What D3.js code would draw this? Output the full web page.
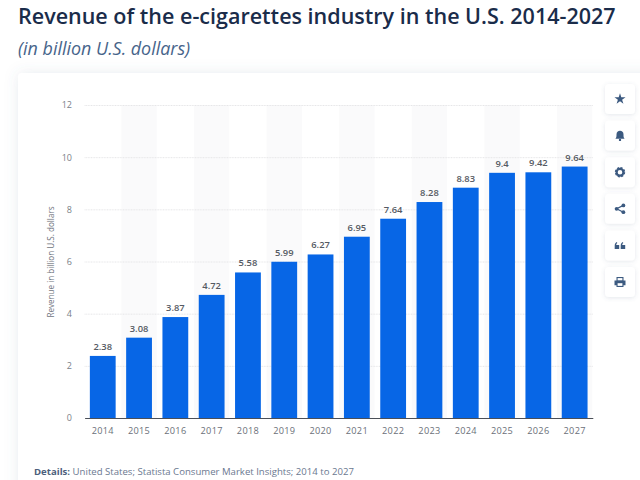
<!DOCTYPE html>
<html><head><meta charset="utf-8">
<script src="https://cdn.jsdelivr.net/npm/d3@7"></script>
<style>
html,body{margin:0;padding:0;background:#fff;overflow:hidden}
svg{display:block}
text{font-family:"Open Sans",sans-serif}
</style></head><body>
<svg id="c" width="640" height="480"></svg>
<script>
const years=["2014","2015","2016","2017","2018","2019","2020","2021","2022","2023","2024","2025","2026","2027"];
const revenue=[2.38,3.08,3.87,4.72,5.58,5.99,6.27,6.95,7.64,8.28,8.83,9.4,9.42,9.64];
const yTicks=[0,2,4,6,8,10,12];
const titleText="Revenue of the e-cigarettes industry in the U.S. 2014-2027";
const subtitleText="(in billion U.S. dollars)";
const yAxisLabel="Revenue in billion U.S. dollars";
const detailsLabel="Details:";
const detailsText=" United States; Statista Consumer Market Insights; 2014 to 2027";
const iconNames=["star","bell","gear","share","quote","print"];

const svg=d3.select("#c");
const defs=svg.append("defs");
const blur=defs.append("filter").attr("id","sh").attr("x","-20%").attr("y","-20%").attr("width","140%").attr("height","140%");
blur.append("feDropShadow").attr("dx",0).attr("dy",0).attr("stdDeviation",7).attr("flood-color","#5b6b85").attr("flood-opacity",0.13);
const blur2=defs.append("filter").attr("id","sh2").attr("x","-30%").attr("y","-30%").attr("width","160%").attr("height","160%");
blur2.append("feDropShadow").attr("dx",0).attr("dy",1).attr("stdDeviation",2).attr("flood-color","#5b6b85").attr("flood-opacity",0.16);

svg.append("text").attr("x",18).attr("y",24).attr("font-size",21.53).attr("font-weight",600).attr("fill","#1a2c4a").text(titleText);
svg.append("text").attr("x",18).attr("y",54.5).attr("font-size",17.9).attr("font-style","italic").attr("fill","#47648a").text(subtitleText);

svg.append("rect").attr("x",18).attr("y",73).attr("width",640).attr("height",430).attr("rx",4).attr("fill","#fff").attr("filter","url(#sh)");

const x=d3.scaleBand().domain(years).range([84.6,592.8]).paddingInner(0).paddingOuter(0);
const y=d3.scaleLinear().domain([0,12]).range([418,105]);

svg.append("g").selectAll("rect").data(years.filter((d,i)=>i%2===1)).join("rect")
  .attr("x",d=>x(d)+0.5).attr("width",x.bandwidth()-1).attr("y",y(12)).attr("height",y(0)-y(12)).attr("fill","#fafafb");

const grid=svg.append("g")
  .call(d3.axisLeft(y).tickValues(yTicks.filter(d=>d>0)).tickSize(-(592.8-84.6)).tickFormat(""))
  .attr("transform","translate(84.6,0)");
grid.select(".domain").remove();
grid.selectAll("line").attr("stroke","#e6e6e8").attr("stroke-width",1).attr("stroke-dasharray","1 0.6");

const yAxis=svg.append("g").attr("transform","translate(72,0)")
  .call(d3.axisLeft(y).tickValues(yTicks).tickSize(0).tickPadding(0));
yAxis.select(".domain").remove();
yAxis.selectAll("text").attr("font-size",9).attr("fill","#7a7f88").attr("font-family","'Open Sans',sans-serif");

svg.append("text").attr("transform","translate(53.5,262) rotate(-90)").attr("text-anchor","middle")
  .attr("font-size",8.1).attr("fill","#6f747d").text(yAxisLabel);

const bw=25.8;
svg.append("g").selectAll("rect").data(revenue).join("rect")
  .attr("x",(d,i)=>x(years[i])+x.bandwidth()/2-bw/2).attr("width",bw)
  .attr("y",d=>y(d)).attr("height",d=>y(0)-y(d)).attr("fill","#0766e6");

svg.append("g").selectAll("text").data(revenue).join("text")
  .attr("x",(d,i)=>x(years[i])+x.bandwidth()/2).attr("y",d=>y(d)-6)
  .attr("text-anchor","middle").attr("font-size",9.4).attr("font-weight",600).attr("fill","#555a63")
  .text(d=>d);

const xAxis=svg.append("g").attr("transform","translate(0,418)")
  .call(d3.axisBottom(x).tickSize(0).tickPadding(9));
xAxis.select(".domain").attr("stroke","#4a4f58").attr("stroke-width",1);
xAxis.selectAll("text").attr("font-size",9.2).attr("fill","#6b7079").attr("letter-spacing",0.3).attr("font-family","'Open Sans',sans-serif");

const det=svg.append("text").attr("x",34).attr("y",475).attr("font-size",9.6).attr("fill","#6b7890");
det.append("tspan").attr("font-weight",700).attr("fill","#4d5f7c").text(detailsLabel);
det.append("tspan").text(detailsText);

const iconY=d3.scaleBand().domain(iconNames).range([84,297]).paddingInner(0.18).paddingOuter(0);
const c="#3c5a80";
const draw={
 star:g=>g.append("path").attr("d",d3.symbol(d3.symbolStar,38)()).attr("fill",c),
 bell:g=>{g.append("path").attr("d","M-4.6 3.2C-3.4 2-3.5 0-3.5-1.2C-3.5-3.4-2-4.8-0-4.8C2-4.8 3.5-3.4 3.5-1.2C3.5 0 3.4 2 4.6 3.2Z").attr("fill",c);
   g.append("circle").attr("cy",4.3).attr("r",1.2).attr("fill",c);},
 gear:g=>{g.append("circle").attr("r",3.4).attr("fill","none").attr("stroke",c).attr("stroke-width",2.2);
   g.append("circle").attr("r",4.6).attr("fill","none").attr("stroke",c).attr("stroke-width",1.2).attr("stroke-dasharray","2.2 1.4");},
 share:g=>{g.append("path").attr("d","M3.4-3.4L-3.4 0L3.4 3.4").attr("fill","none").attr("stroke",c).attr("stroke-width",1.2);
   [[3.4,-3.4],[-3.4,0],[3.4,3.4]].forEach(p=>g.append("circle").attr("cx",p[0]).attr("cy",p[1]).attr("r",1.9).attr("fill",c));},
 quote:g=>{[-3,3].forEach(dx=>g.append("path").attr("transform",`translate(${dx},0)`).attr("d","M-2.3 3.5V0.3C-2.3-1.5-1.2-3-0.2-3.3L0.3-2.3C-0.4-1.9-0.8-1.2-0.8-0.4H2.2V3.5Z").attr("fill",c));},
 print:g=>{g.append("path").attr("d","M-3.5-1.5V-5H3.5V-1.5H5.5V3.2H3.5V5H-3.5V3.2H-5.5V-1.5Z").attr("fill",c);
   g.append("rect").attr("x",-2.4).attr("y",-3.9).attr("width",4.8).attr("height",2.2).attr("fill","#fff");
   g.append("rect").attr("x",-2.4).attr("y",1.2).attr("width",4.8).attr("height",2.7).attr("fill","#fff");}
};
const ig=svg.append("g").selectAll("g").data(iconNames).join("g")
  .attr("transform",d=>`translate(605,${iconY(d)})`);
ig.append("rect").attr("width",30).attr("height",iconY.bandwidth()).attr("rx",4).attr("fill","#fff").attr("filter","url(#sh2)");
ig.append("g").attr("transform",`translate(15,${iconY.bandwidth()/2})`).each(function(d){draw[d](d3.select(this));});
</script>
</body></html>
